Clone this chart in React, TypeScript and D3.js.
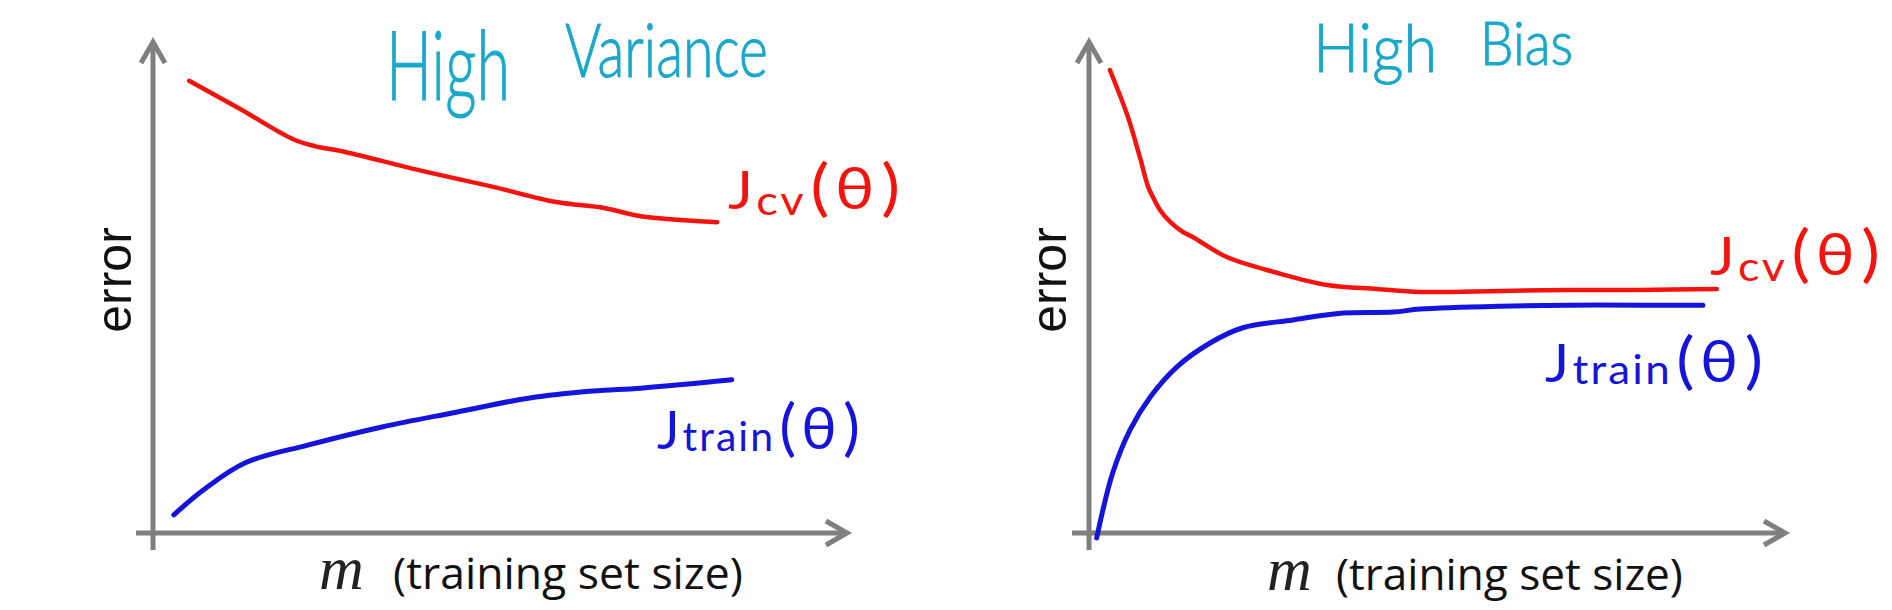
import { useRef, useEffect } from "react";
import * as d3 from "d3";

// training set size (0..100 along the axis) and error (0..100 up the axis)
const HV_M_CV = [5.2, 12.5, 20.2, 23.3, 27.7, 38.3, 49.0, 58.1, 65.0, 70.3, 81.3];
const HV_CV = [92.1, 86.4, 80.2, 78.8, 77.6, 73.9, 70.5, 67.4, 66.2, 64.5, 63.3];
const HV_M_TRAIN = [3.0, 7.3, 13.3, 22.3, 33.0, 43.7, 54.3, 63.4, 70.3, 83.4];
const HV_TRAIN = [3.7, 8.8, 14.3, 17.9, 21.6, 24.6, 27.5, 28.9, 29.5, 31.2];

const HB_M_CV = [3.0, 5.6, 7.3, 8.5, 9.2, 10.2, 11.7, 13.5, 14.9, 19.8, 27.0, 34.2, 41.4, 47.6, 59.1, 69.0, 79.2, 90.2];
const HB_CV = [94.3, 84.7, 76.6, 70.5, 68.4, 65.8, 63.3, 61.3, 60.3, 56.2, 53.0, 50.5, 49.7, 49.1, 49.3, 49.5, 49.5, 49.7];
const HB_M_TRAIN = [1.1, 3.4, 5.9, 8.8, 12.6, 17.4, 22.1, 29.3, 36.5, 43.7, 47.6, 59.1, 69.0, 79.2, 88.2];
const HB_TRAIN = [-1.0, 12.2, 21.0, 27.7, 33.8, 38.7, 41.8, 43.4, 44.8, 45.0, 45.6, 46.2, 46.4, 46.4, 46.4];

const TITLES = [["High", "Variance"], ["High", "Bias"]];
const CV_SUB = "cv";
const TRAIN_SUB = "train";
const Y_LABEL = "error";
const X_LABEL = "(training set size)";

const WIDTH = 1892;
const HEIGHT = 610;
const AXIS = "#7f7f7f";
const RED = "#f5130e";
const BLUE = "#1414dc";
const CYAN = "#19a8cc";
const HAND = "Lato, 'Open Sans', sans-serif";

type Pt = [number, number];
const zip = (xs: number[], ys: number[]): Pt[] => xs.map((x, i) => [x, ys[i]]);

export default function App() {
  const svgRef = useRef<SVGSVGElement>(null);

  useEffect(() => {
    if (!svgRef.current) return;
    const svg = d3.select(svgRef.current);
    svg.selectAll("*").remove();

    svg.append("rect").attr("width", WIDTH).attr("height", HEIGHT).attr("fill", "#fff");

    const panels = [
      {
        x0: 153, x1: 847, cv: zip(HV_M_CV, HV_CV), train: zip(HV_M_TRAIN, HV_TRAIN),
        title: TITLES[0],
        titlePos: [[386, 100, 96, 124], [565, 77, 74, 203]],
        errX: 131, mX: 319, textX: 393, textW: 350, labelY: 589,
        cvLab: [728, 209, 172], trLab: [657, 449, 203],
      },
      {
        x0: 1089, x1: 1785, cv: zip(HB_M_CV, HB_CV), train: zip(HB_M_TRAIN, HB_TRAIN),
        title: TITLES[1],
        titlePos: [[1313, 72, 68, 124], [1480, 65, 62, 93]],
        errX: 1066, mX: 1267, textX: 1336, textW: 347, labelY: 590,
        cvLab: [1710, 275, 170], trLab: [1545, 382, 218],
      },
    ];

    // squeeze a text horizontally to a given width
    const fitWidth = (sel: d3.Selection<SVGTextElement, unknown, null, undefined>, x: number, y: number, w: number) => {
      const natural = sel.node()!.getBBox().width || w;
      sel.attr("transform", `translate(${x},${y}) scale(${w / natural},1)`);
    };

    panels.forEach((p) => {
      const g = svg.append("g");
      const x = d3.scaleLinear().domain([0, 100]).range([p.x0, p.x1]);
      const y = d3.scaleLinear().domain([0, 100]).range([533, 42]);

      // Axes with open arrow heads
      const axis = g.append("g")
        .attr("stroke", AXIS)
        .attr("stroke-width", 5)
        .attr("fill", "none");
      axis.append("line")
        .attr("x1", x(0)).attr("y1", y(0) + 17)
        .attr("x2", x(0)).attr("y2", y(100) + 2);
      axis.append("line")
        .attr("x1", x(0) - 17).attr("y1", y(0))
        .attr("x2", x(100) - 2).attr("y2", y(0));
      axis.append("path")
        .attr("stroke-linejoin", "miter")
        .attr("d", `M${x(0) - 12},${y(100) + 21}L${x(0)},${y(100)}L${x(0) + 12},${y(100) + 21}`);
      axis.append("path")
        .attr("stroke-linejoin", "miter")
        .attr("d", `M${x(100) - 21},${y(0) - 12}L${x(100)},${y(0)}L${x(100) - 21},${y(0) + 12}`);

      const line = d3.line<Pt>()
        .x((d) => x(d[0]))
        .y((d) => y(d[1]))
        .curve(d3.curveCatmullRom.alpha(0.5));

      g.append("path")
        .datum(p.cv)
        .attr("fill", "none")
        .attr("stroke", RED)
        .attr("stroke-width", 4.5)
        .attr("stroke-linecap", "round")
        .attr("d", line);

      g.append("path")
        .datum(p.train)
        .attr("fill", "none")
        .attr("stroke", BLUE)
        .attr("stroke-width", 5)
        .attr("stroke-linecap", "round")
        .attr("d", line);

      // Handwritten title
      p.title.forEach((word, i) => {
        const [tx, ty, size, len] = p.titlePos[i];
        const t = g.append("text")
          .attr("font-family", HAND)
          .attr("font-weight", 300)
          .attr("font-size", size)
          .attr("fill", CYAN)
          .attr("stroke", CYAN)
          .attr("stroke-width", 1)
          .text(word);
        fitWidth(t, tx, ty, len);
      });

      // Curve labels: J, subscript, then a wide (θ)
      const curveLabel = (pos: number[], sub: string, color: string, subDy: number) => {
        const t = g.append("text")
          .attr("font-family", HAND)
          .attr("fill", color);
        t.append("tspan").attr("font-size", 52).text("J");
        t.append("tspan").attr("font-size", 40).attr("dx", 3).attr("dy", subDy)
          .attr("letter-spacing", 2).text(sub);
        t.append("tspan").attr("font-size", 62).attr("dx", 4).attr("dy", -subDy).text("(");
        t.append("tspan").attr("font-size", 58).attr("dx", 5).text("θ");
        t.append("tspan").attr("font-size", 62).attr("dx", 6).text(")");
        fitWidth(t, pos[0], pos[1], pos[2]);
      };
      curveLabel(p.cvLab, CV_SUB, RED, 6);
      curveLabel(p.trLab, TRAIN_SUB, BLUE, 2);

      // Axis titles
      g.append("text")
        .attr("transform", `translate(${p.errX},280) rotate(-90)`)
        .attr("text-anchor", "middle")
        .attr("font-family", "'Liberation Sans', Arial, sans-serif")
        .attr("font-size", 50)
        .attr("fill", "#111")
        .text(Y_LABEL);

      g.append("text")
        .attr("x", p.mX)
        .attr("y", p.labelY)
        .attr("font-family", "'Liberation Serif', 'Times New Roman', serif")
        .attr("font-style", "italic")
        .attr("font-size", 62)
        .attr("fill", "#222")
        .text("m");

      const xl = g.append("text")
        .attr("font-family", "'Open Sans', sans-serif")
        .attr("font-size", 44)
        .attr("fill", "#111")
        .text(X_LABEL);
      fitWidth(xl, p.textX, p.labelY, p.textW);
    });
  }, []);

  return (
    <svg
      ref={svgRef}
      width={WIDTH}
      height={HEIGHT}
      style={{ position: "absolute", left: 0, top: 0 }}
    />
  );
}
